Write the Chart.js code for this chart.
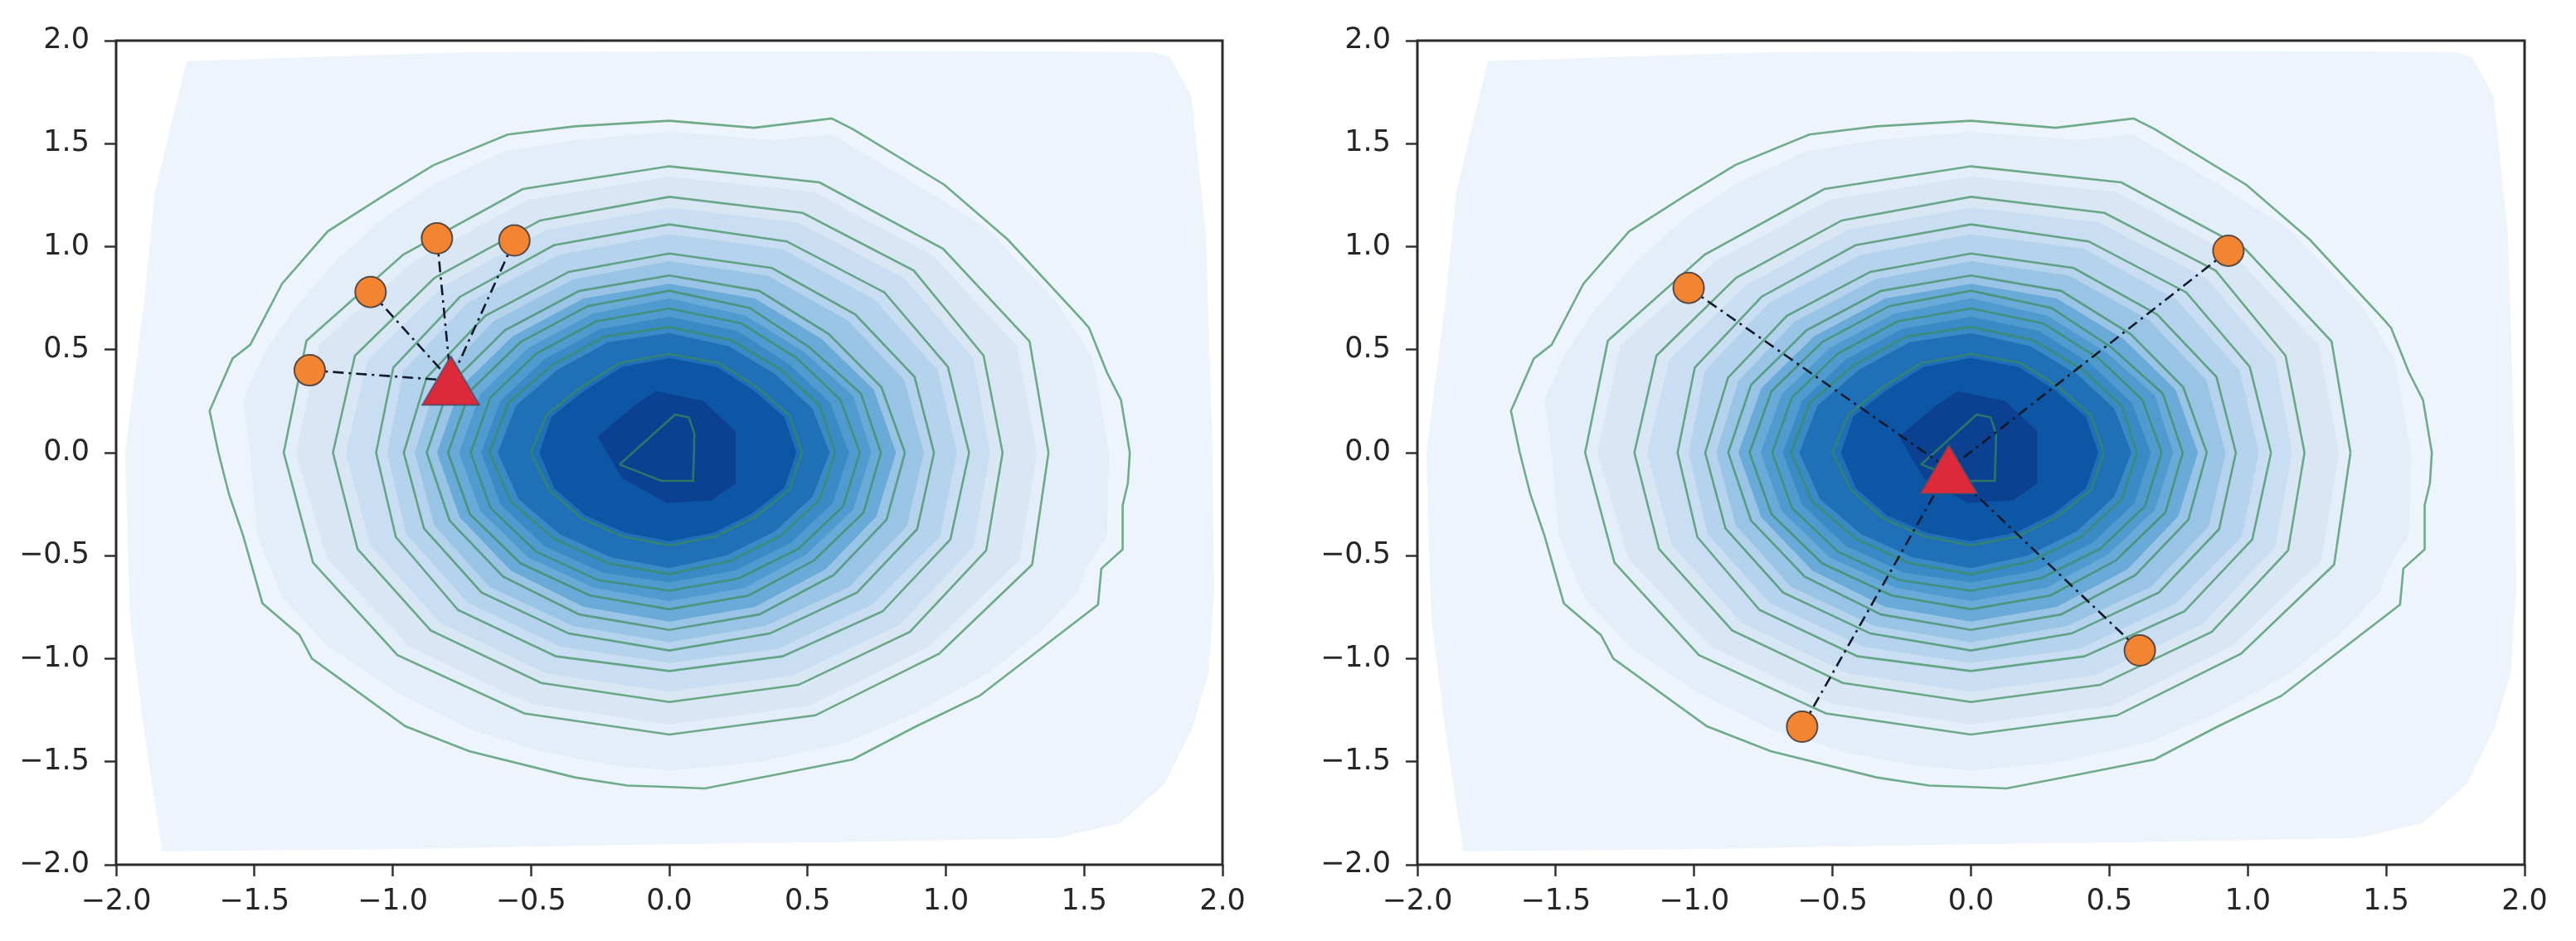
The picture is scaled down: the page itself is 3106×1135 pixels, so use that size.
<!DOCTYPE html>
<html>
<head>
<meta charset="utf-8">
<script src="https://cdn.jsdelivr.net/npm/chart.js@4.4.1/dist/chart.umd.min.js"></script>
<style>
html, body { margin: 0; padding: 0; background: #ffffff; }
#wrap { position: relative; width: 3106px; height: 1135px; background: #ffffff; }
#wrap canvas { position: absolute; top: 0; }
</style>
</head>
<body>
<div id="wrap">
  <canvas id="leftPanel" width="1553" height="1135" style="left:0px;width:1553px;height:1135px"></canvas>
  <canvas id="rightPanel" width="1553" height="1135" style="left:1553px;width:1553px;height:1135px"></canvas>
</div>
<script>
// ---------------- data ----------------
const tickValues = [-2, -1.5, -1, -0.5, 0, 0.5, 1, 1.5, 2];
const tickLabels = ['\u22122.0', '\u22121.5', '\u22121.0', '\u22120.5', '0.0', '0.5', '1.0', '1.5', '2.0'];

// directions (degrees) at which contour radii were read
const contourAngles = [0, 22.5, 45, 67.5, 90, 112.5, 135, 157.5, 180, 202.5, 225, 247.5, 270, 292.5, 315, 337.5];

// filled density bands, light -> dark
const densityFillColors = ['#edf4fc', '#e3eef9', '#d9e7f5', '#c9def2', '#b5d3ec', '#9ac4e6',
                           '#6aaad8', '#4f9bd0', '#3a8ac6', '#2070b8', '#0d56a5', '#0b4190'];

const fillOuterRegion = [[-1.745, 1.90], [-0.72, 1.945], [1.0, 1.95], [1.75, 1.945], [1.81, 1.92], [1.888, 1.73],
  [1.94, 1.06], [1.964, 0.0], [1.97, -0.67], [1.95, -1.07], [1.89, -1.34], [1.79, -1.61], [1.63, -1.80],
  [1.4, -1.87], [0.6, -1.89], [0.0, -1.90], [-1.0, -1.925], [-1.44, -1.93], [-1.834, -1.935], [-1.90, -1.34],
  [-1.95, -0.8], [-1.968, 0.0], [-1.90, 0.72], [-1.86, 1.26], [-1.80, 1.6]];

const fillBand1 = [[1.59, 0], [1.531, 0.457], [1.403, 0.726], [1.148, 1.088], [0.893, 1.302], [0.587, 1.544],
  [0.383, 1.517], [0, 1.557], [-0.342, 1.517], [-0.597, 1.463], [-0.852, 1.302], [-1.031, 1.142],
  [-1.209, 0.927], [-1.362, 0.685], [-1.464, 0.484], [-1.541, 0.256], [-1.515, 0], [-1.49, -0.40],
  [-1.40, -0.70], [-1.235, -0.939], [-0.98, -1.167], [-0.724, -1.341], [-0.469, -1.449], [-0.214, -1.516],
  [0, -1.543], [0.319, -1.502], [0.638, -1.408], [0.893, -1.261], [1.148, -1.073], [1.339, -0.872],
  [1.48, -0.671], [1.505, -0.563], [1.582, -0.402]];

const fillRadii2  = [1.33, 1.36, 1.35, 1.37, 1.34, 1.33, 1.31, 1.37, 1.35, 1.34, 1.33, 1.32, 1.32, 1.33, 1.33, 1.37];
const fillRadii3  = [1.16, 1.19, 1.20, 1.21, 1.19, 1.17, 1.15, 1.18, 1.17, 1.17, 1.17, 1.16, 1.16, 1.17, 1.18, 1.19];
const fillRadii4  = [1.04, 1.05, 1.05, 1.07, 1.06, 1.04, 1.03, 1.04, 1.02, 1.03, 1.03, 1.02, 1.02, 1.03, 1.04, 1.06];
const fillRadii5  = [0.92, 0.92, 0.91, 0.93, 0.93, 0.91, 0.90, 0.91, 0.92, 0.92, 0.92, 0.91, 0.92, 0.91, 0.92, 0.93];
const fillRadii6  = [0.82, 0.80, 0.78, 0.81, 0.82, 0.81, 0.80, 0.82, 0.84, 0.82, 0.81, 0.81, 0.82, 0.81, 0.80, 0.81];
const fillRadii7  = [0.73, 0.72, 0.69, 0.72, 0.75, 0.73, 0.72, 0.74, 0.76, 0.74, 0.72, 0.71, 0.72, 0.71, 0.70, 0.72];
const fillRadii8  = [0.65, 0.63, 0.61, 0.64, 0.66, 0.65, 0.64, 0.66, 0.68, 0.66, 0.64, 0.63, 0.63, 0.62, 0.62, 0.64];
const fillRadii9  = [0.58, 0.56, 0.54, 0.56, 0.58, 0.58, 0.57, 0.60, 0.62, 0.59, 0.56, 0.55, 0.56, 0.54, 0.54, 0.56];
const fillRadii10 = [0.46, 0.45, 0.43, 0.45, 0.46, 0.45, 0.43, 0.46, 0.47, 0.45, 0.43, 0.42, 0.43, 0.42, 0.42, 0.45];
const fillCore = [[-0.26, 0.078], [-0.13, 0.225], [-0.049, 0.299], [0.122, 0.252], [0.24, 0.104],
  [0.24, -0.15], [0.152, -0.231], [-0.009, -0.244], [-0.17, -0.124]];

// green contour lines, outer -> inner
const lineOuter = [[1.665, 0], [1.633, 0.256], [1.582, 0.39], [1.518, 0.605], [1.492, 0.645], [1.224, 1.034],
  [0.995, 1.30], [0.663, 1.571], [0.587, 1.622], [0.306, 1.577], [0, 1.611], [-0.342, 1.584], [-0.584, 1.544],
  [-0.852, 1.396], [-1.031, 1.249], [-1.235, 1.074], [-1.40, 0.82], [-1.515, 0.524], [-1.579, 0.457],
  [-1.662, 0.203], [-1.63, 0], [-1.592, -0.201], [-1.541, -0.402], [-1.471, -0.731], [-1.337, -0.885],
  [-1.292, -0.999], [-0.954, -1.328], [-0.724, -1.449], [-0.342, -1.576], [-0.151, -1.616], [0, -1.623],
  [0.128, -1.63], [0.383, -1.563], [0.663, -1.489], [0.893, -1.328], [1.122, -1.18], [1.55, -0.738],
  [1.562, -0.563], [1.639, -0.47], [1.639, -0.255], [1.658, -0.148]];
const lineRadii2  = [1.371, 1.41, 1.40, 1.42, 1.39, 1.385, 1.36, 1.42, 1.394, 1.394, 1.39, 1.37, 1.368, 1.38, 1.38, 1.42];
const lineRadii3  = [1.205, 1.23, 1.25, 1.26, 1.242, 1.22, 1.20, 1.23, 1.216, 1.22, 1.22, 1.21, 1.21, 1.22, 1.23, 1.24];
const lineRadii4  = [1.084, 1.09, 1.10, 1.11, 1.108, 1.09, 1.07, 1.08, 1.06, 1.07, 1.08, 1.07, 1.06, 1.07, 1.09, 1.10];
const lineRadii5  = [0.957, 0.96, 0.95, 0.97, 0.967, 0.95, 0.94, 0.95, 0.96, 0.96, 0.96, 0.95, 0.96, 0.95, 0.96, 0.97];
const lineRadii6  = [0.852, 0.83, 0.815, 0.85, 0.86, 0.85, 0.84, 0.86, 0.877, 0.86, 0.85, 0.85, 0.86, 0.85, 0.84, 0.85];
const lineRadii7  = [0.765, 0.75, 0.72, 0.76, 0.786, 0.77, 0.76, 0.78, 0.80, 0.78, 0.76, 0.75, 0.76, 0.75, 0.74, 0.76];
const lineRadii8  = [0.689, 0.67, 0.65, 0.68, 0.70, 0.69, 0.68, 0.70, 0.718, 0.70, 0.68, 0.67, 0.67, 0.66, 0.66, 0.68];
const lineRadii9  = [0.60, 0.59, 0.57, 0.59, 0.61, 0.61, 0.60, 0.63, 0.65, 0.62, 0.59, 0.58, 0.59, 0.57, 0.57, 0.59];
const lineRadii10 = [0.48, 0.47, 0.45, 0.47, 0.48, 0.47, 0.45, 0.48, 0.50, 0.47, 0.45, 0.44, 0.45, 0.44, 0.44, 0.47];
const lineCore = [[-0.18, -0.057], [0.021, 0.185], [0.071, 0.171], [0.091, 0.091], [0.086, -0.137], [-0.029, -0.137]];

// samples (orange) and the red triangle marker
const leftSampleX = [-1.30, -1.08, -0.84, -0.56];
const leftSampleY = [0.40, 0.78, 1.04, 1.03];
const leftMarkerX = [-0.79];
const leftMarkerY = [0.35];
const rightSampleX = [-1.02, 0.93, 0.61, -0.61];
const rightSampleY = [0.80, 0.98, -0.96, -1.33];
const rightMarkerX = [-0.08];
const rightMarkerY = [-0.08];

// ---------------- building ----------------
function ringFromPairs(pairs) {
  const pts = pairs.map(p => ({ x: p[0], y: p[1] }));
  pts.push({ x: pairs[0][0], y: pairs[0][1] });
  return pts;
}
function ringFromRadii(radii) {
  return ringFromPairs(radii.map((r, i) => {
    const a = contourAngles[i] * Math.PI / 180;
    return [r * Math.cos(a), r * Math.sin(a)];
  }));
}

const fillRings = [
  ringFromPairs(fillOuterRegion), ringFromPairs(fillBand1),
  ringFromRadii(fillRadii2), ringFromRadii(fillRadii3), ringFromRadii(fillRadii4), ringFromRadii(fillRadii5),
  ringFromRadii(fillRadii6), ringFromRadii(fillRadii7), ringFromRadii(fillRadii8), ringFromRadii(fillRadii9),
  ringFromRadii(fillRadii10), ringFromPairs(fillCore)
];
const lineRings = [
  ringFromPairs(lineOuter),
  ringFromRadii(lineRadii2), ringFromRadii(lineRadii3), ringFromRadii(lineRadii4), ringFromRadii(lineRadii5),
  ringFromRadii(lineRadii6), ringFromRadii(lineRadii7), ringFromRadii(lineRadii8), ringFromRadii(lineRadii9),
  ringFromRadii(lineRadii10), ringFromPairs(lineCore)
];

function makeTriangle() {
  const c = document.createElement('canvas');
  c.width = 74; c.height = 64;
  const g = c.getContext('2d');
  g.beginPath();
  g.moveTo(37, 2.5);
  g.lineTo(71.5, 61.5);
  g.lineTo(2.5, 61.5);
  g.closePath();
  g.fillStyle = '#dc2a3a';
  g.fill();
  g.lineWidth = 1.5;
  g.strokeStyle = '#46506e';
  g.stroke();
  return c;
}
const triangleImg = makeTriangle();

const spinesPlugin = {
  id: 'spines',
  afterDatasetsDraw(chart) {
    const { ctx, chartArea: a } = chart;
    ctx.save();
    ctx.strokeStyle = '#2b2b2b';
    ctx.lineWidth = 3;
    ctx.strokeRect(a.left, a.top, a.right - a.left, a.bottom - a.top);
    ctx.restore();
  }
};

const tickFont = { family: 'DejaVu Sans', size: 35 };

function buildChart(canvasId, axisWidth, padRight, sx, sy, mx, my) {
  const datasets = [];
  fillRings.forEach((ring, i) => datasets.push({
    type: 'line', data: ring, fill: 'shape', backgroundColor: densityFillColors[i],
    borderColor: 'rgba(0,0,0,0)', borderWidth: 0, pointRadius: 0, tension: 0, order: 100 - i
  }));
  lineRings.forEach((ring, i) => datasets.push({
    type: 'line', data: ring, fill: false, borderColor: 'rgba(58,140,90,0.7)',
    borderWidth: 2.6, pointRadius: 0, tension: 0, order: 50 - i
  }));
  sx.forEach((x, i) => datasets.push({
    type: 'line', data: [{ x: x, y: sy[i] }, { x: mx[0], y: my[0] }], fill: false,
    borderColor: '#111a2c', borderWidth: 2.6, borderDash: [13, 6, 3, 6], pointRadius: 0, order: 10
  }));
  datasets.push({
    type: 'scatter', data: sx.map((x, i) => ({ x: x, y: sy[i] })), pointRadius: 18.5,
    backgroundColor: '#f28432', borderColor: '#5a4a46', borderWidth: 2, order: 2
  });
  datasets.push({
    type: 'scatter', data: [{ x: mx[0], y: my[0] }], pointStyle: triangleImg, pointRadius: 30, order: 1
  });

  const axisCommon = {
    type: 'linear', min: -2, max: 2,
    afterBuildTicks: (scale) => { scale.ticks = tickValues.map(v => ({ value: v })); },
    grid: { drawOnChartArea: false, drawTicks: true, tickLength: 14, tickWidth: 2.5, tickColor: '#333333', color: '#333333' },
    border: { display: false }
  };

  return new Chart(document.getElementById(canvasId), {
    type: 'scatter',
    data: { datasets: datasets },
    options: {
      responsive: false,
      animation: false,
      events: [],
      layout: { padding: { top: 49, right: padRight, left: 0, bottom: 0 } },
      plugins: { legend: { display: false }, tooltip: { enabled: false } },
      scales: {
        x: Object.assign({}, axisCommon, {
          position: 'bottom',
          ticks: { callback: (v, i) => tickLabels[i], font: tickFont, color: '#262626', padding: 10, maxRotation: 0, autoSkip: false },
          afterFit: (scale) => { scale.height = 92; }
        }),
        y: Object.assign({}, axisCommon, {
          position: 'left',
          ticks: { callback: (v, i) => tickLabels[i], font: tickFont, color: '#262626', padding: 18, autoSkip: false },
          afterFit: (scale) => { scale.width = axisWidth; }
        })
      }
    },
    plugins: [spinesPlugin]
  });
}

buildChart('leftPanel', 140, 79, leftSampleX, leftSampleY, leftMarkerX, leftMarkerY);
buildChart('rightPanel', 156, 62, rightSampleX, rightSampleY, rightMarkerX, rightMarkerY);
</script>
</body>
</html>
